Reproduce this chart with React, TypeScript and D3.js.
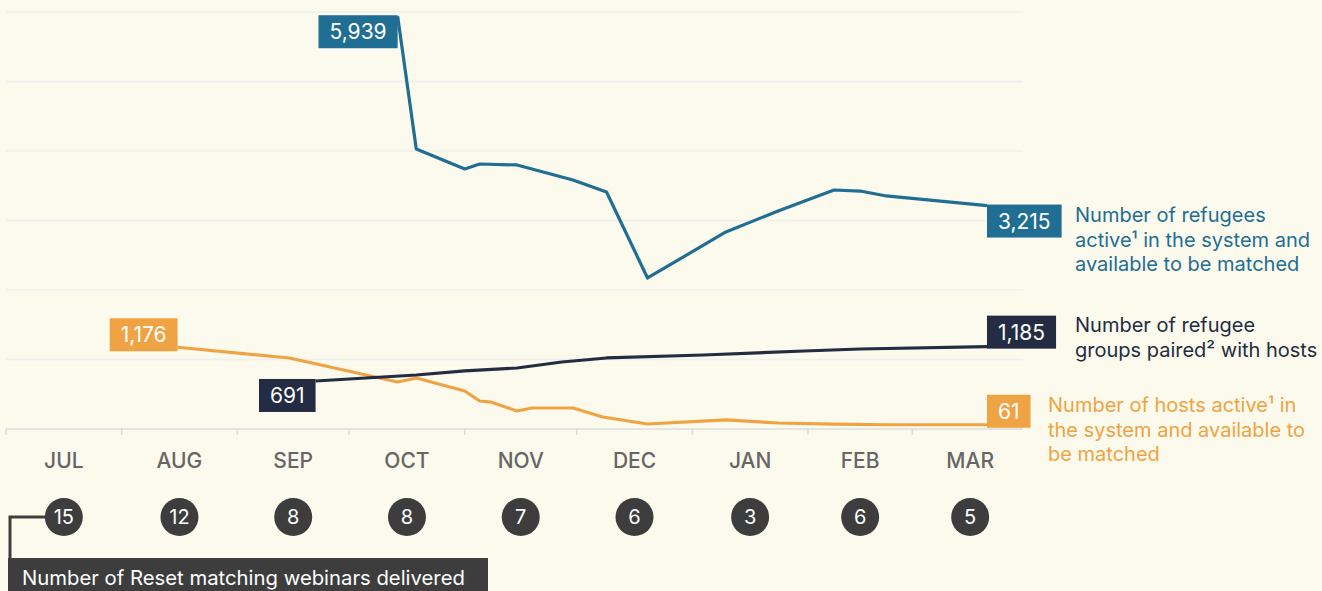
import React from "react";
import * as d3 from "d3";

const months = ["JUL", "AUG", "SEP", "OCT", "NOV", "DEC", "JAN", "FEB", "MAR"];
const webinars = [15, 12, 8, 8, 7, 6, 3, 6, 5];
const gridValues = [1000, 2000, 3000, 4000, 5000, 6000];

const refugeeDates = ["2022-10-14", "2022-10-19", "2022-11-01", "2022-11-05", "2022-11-15", "2022-11-30", "2022-12-09", "2022-12-20", "2023-01-10", "2023-01-24", "2023-02-08", "2023-02-15", "2023-02-22", "2023-03-21"];
const refugeeValues = [5939, 4029, 3741, 3813, 3799, 3583, 3410, 2173, 2835, 3137, 3439, 3424, 3353, 3215];

const hostDates = ["2022-08-16", "2022-09-15", "2022-10-14", "2022-10-19", "2022-11-01", "2022-11-05", "2022-11-08", "2022-11-15", "2022-11-19", "2022-11-30", "2022-12-08", "2022-12-20", "2023-01-10", "2023-01-24", "2023-02-08", "2023-02-22", "2023-03-21"];
const hostValues = [1176, 1022, 676, 734, 547, 403, 388, 259, 302, 302, 173, 72, 130, 86, 70, 61, 61];

const pairedDates = ["2022-09-22", "2022-10-19", "2022-11-01", "2022-11-15", "2022-11-27", "2022-12-09", "2023-01-04", "2023-01-31", "2023-02-15", "2023-03-21"];
const pairedValues = [691, 777, 835, 878, 964, 1022, 1065, 1122, 1151, 1185];

const BLUE = "#216e94";
const ORANGE = "#f0a343";
const NAVY = "#232c42";
const GREY = "#3d3d3d";
const BG = "#fcfaec";
const FONT = "Inter, 'Noto Sans', sans-serif";

const parse = d3.timeParse("%Y-%m-%d");

function measure(text: string, size: number) {
  const c = document.createElement("canvas").getContext("2d");
  if (!c) return text.length * size * 0.58;
  c.font = `${size}px Inter`;
  return c.measureText(text).width;
}

export default function App() {
  const W = 1322;
  const H = 591;
  const x = d3.scaleTime().domain([parse("2022-07-01")!, parse("2023-04-01")!]).range([6, 1028]);
  const y = d3.scaleLinear().domain([0, 6000]).range([429, 12]);
  const fmt = d3.format(",");

  const line = d3
    .line<[Date, number]>()
    .x((d) => x(d[0]))
    .y((d) => y(d[1]));

  const series = [
    { dates: refugeeDates, values: refugeeValues, color: BLUE, startDy: -1, endDy: -1 },
    { dates: hostDates, values: hostValues, color: ORANGE, startDy: 4 - 33, endDy: 3 - 33 },
    { dates: pairedDates, values: pairedValues, color: NAVY, startDy: -2, endDy: 2 - 33 },
  ];

  const monthStarts = d3.timeMonth.range(parse("2022-07-01")!, parse("2023-04-02")!);
  const monthMids = months.map((_, i) => (x(monthStarts[i]) + x(monthStarts[i + 1])) / 2);

  const boxH = 33;
  const labelSize = 21;

  const box = (xx: number, yy: number, anchorRight: boolean, value: number, color: string, key: string) => {
    const t = fmt(value);
    const w = measure(t, labelSize) + 22;
    const bx = anchorRight ? xx - w : xx;
    return (
      <g key={key}>
        <rect x={bx} y={yy} width={w} height={boxH} fill={color} />
        <text x={bx + w / 2} y={yy + boxH / 2 + 7.5} textAnchor="middle" fill="#fff" fontSize={labelSize} fontFamily={FONT}>
          {t}
        </text>
      </g>
    );
  };

  return (
    <svg width={W} height={H} style={{ position: "absolute", left: 0, top: 0, background: BG }}>
      <rect width={W} height={H} fill={BG} />
      {gridValues.map((g) => (
        <line key={g} x1={6} x2={1023} y1={y(g)} y2={y(g)} stroke="#eef0ee" strokeWidth={1.5} />
      ))}
      <line x1={6} x2={1023} y1={y(0)} y2={y(0)} stroke="#dcdcdc" strokeWidth={1.5} />
      {monthStarts.slice(0, 9).map((m, i) => (
        <line key={i} x1={x(m)} x2={x(m)} y1={y(0)} y2={y(0) + 6} stroke="#dcdcdc" strokeWidth={1.5} />
      ))}
      {months.map((m, i) => (
        <text key={m} x={monthMids[i]} y={468} textAnchor="middle" fontSize={21} fontWeight={500} fill="#666" fontFamily={FONT}>
          {m}
        </text>
      ))}
      {series.map((s, i) => {
        const pts: [Date, number][] = s.dates.map((d, j) => [parse(d)!, s.values[j]]);
        return <path key={i} d={line(pts) || ""} fill="none" stroke={s.color} strokeWidth={3.2} strokeLinejoin="round" />;
      })}
      {series.map((s, i) => {
        const d0 = parse(s.dates[0])!;
        const d1 = parse(s.dates[s.dates.length - 1])!;
        const v0 = s.values[0];
        const v1 = s.values[s.values.length - 1];
        return (
          <g key={"lab" + i}>
            {box(x(d0), y(v0) + s.startDy, true, v0, s.color, "s" + i)}
            {box(x(d1), y(v1) + s.endDy, false, v1, s.color, "e" + i)}
          </g>
        );
      })}
      <g fontFamily={FONT} fontSize={20}>
        <text x={1075} fill={BLUE}>
          <tspan x={1075} y={222}>Number of refugees</tspan>
          <tspan x={1075} y={247}>active¹ in the system and</tspan>
          <tspan x={1075} y={271}>available to be matched</tspan>
        </text>
        <text x={1075} fill={NAVY}>
          <tspan x={1075} y={332}>Number of refugee</tspan>
          <tspan x={1075} y={357}>groups paired² with hosts</tspan>
        </text>
        <text x={1048} fill={ORANGE}>
          <tspan x={1048} y={412}>Number of hosts active¹ in</tspan>
          <tspan x={1048} y={437}>the system and available to</tspan>
          <tspan x={1048} y={461}>be matched</tspan>
        </text>
      </g>
      <path d={`M${monthMids[0] - 16},517 H10 V560`} fill="none" stroke={GREY} strokeWidth={3} />
      {webinars.map((w, i) => (
        <g key={i}>
          <circle cx={monthMids[i]} cy={517} r={19} fill={GREY} />
          <text x={monthMids[i]} y={524} textAnchor="middle" fill="#fff" fontSize={20} fontFamily={FONT}>
            {w}
          </text>
        </g>
      ))}
      <rect x={8} y={558} width={480} height={40} fill={GREY} />
      <text x={22} y={585} fill="#fff" fontSize={20.3} fontFamily={FONT}>
        Number of Reset matching webinars delivered
      </text>
    </svg>
  );
}
